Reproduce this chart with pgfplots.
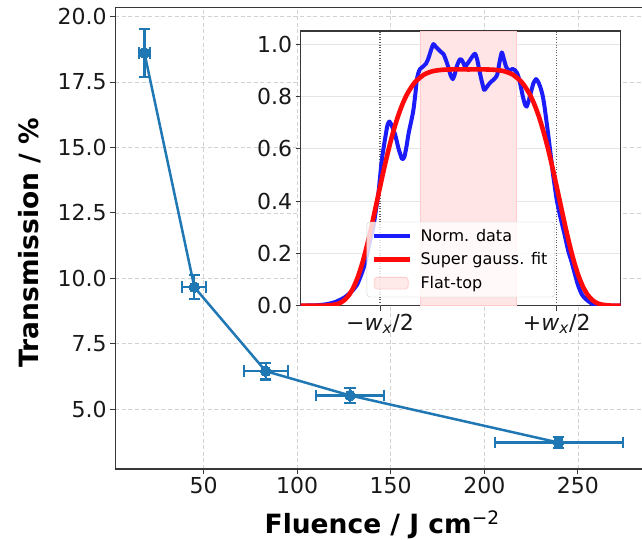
\documentclass[border=0pt]{standalone}
\usepackage{fontspec}
\setmainfont{DejaVu Sans}
\usepackage{pgfplots}
\pgfplotsset{compat=1.18}
\usepackage{pgfplotstable}

\definecolor{c0}{RGB}{31,119,180}
\definecolor{nblue}{RGB}{28,28,250}
\definecolor{nred}{RGB}{255,10,10}
\definecolor{spine}{RGB}{55,55,55}
\definecolor{band}{RGB}{255,229,229}
\definecolor{bandedge}{RGB}{255,205,205}

\pgfplotsset{
  longline legend/.style={legend image code/.code={\draw[##1, sharp plot] (0pt,0pt) -- (36pt,0pt);}},
  band legend/.style={legend image code/.code={\draw[fill=band, draw=bandedge, line width=0.8pt] (0pt,-5.8pt) rectangle (34pt,5.8pt);}},
}

\pgfplotstableread{
x y ex ey
18.4 18.62 2.8 0.92
45.1 9.66 6.4 0.465
83.2 6.45 11.8 0.32
128.3 5.52 18.2 0.275
239.7 3.72 34.2 0.21
}\trans

\pgfplotstableread{
x f
-0.949 0
-0.85 0.0000
-0.80 0.0007
-0.75 0.0049
-0.725 0.0110
-0.70 0.0224
-0.675 0.0414
-0.65 0.0704
-0.625 0.1108
-0.60 0.1632
-0.575 0.2265
-0.55 0.2984
-0.525 0.3757
-0.50 0.4540
-0.475 0.5305
-0.45 0.6017
-0.425 0.6655
-0.40 0.7209
-0.375 0.7670
-0.35 0.8045
-0.325 0.8330
-0.30 0.8560
-0.25 0.8838
-0.20 0.8967
-0.15 0.9015
-0.10 0.9030
0.00 0.9030
0.10 0.9030
0.15 0.9015
0.20 0.8967
0.25 0.8838
0.30 0.8560
0.325 0.8330
0.35 0.8045
0.375 0.7670
0.40 0.7209
0.425 0.6655
0.45 0.6017
0.475 0.5305
0.50 0.4540
0.525 0.3757
0.55 0.2984
0.575 0.2265
0.60 0.1632
0.625 0.1108
0.65 0.0704
0.675 0.0414
0.70 0.0224
0.725 0.0110
0.75 0.0049
0.80 0.0007
0.862 0
}\fit

\pgfplotstableread{
x v
-0.949 0.000
-0.90 0.001
-0.85 0.002
-0.80 0.006
-0.75 0.015
-0.70 0.032
-0.66 0.055
-0.63 0.080
-0.60 0.130
-0.58 0.175
-0.56 0.240
-0.538 0.302
-0.52 0.380
-0.509 0.430
-0.49 0.557
-0.471 0.640
-0.458 0.690
-0.447 0.704
-0.435 0.690
-0.415 0.655
-0.395 0.600
-0.375 0.560
-0.362 0.570
-0.350 0.610
-0.338 0.660
-0.322 0.710
-0.311 0.749
-0.300 0.810
-0.292 0.863
-0.283 0.890
-0.273 0.905
-0.255 0.915
-0.240 0.925
-0.226 0.946
-0.210 0.980
-0.198 1.000
-0.185 0.990
-0.170 0.980
-0.155 0.970
-0.141 0.962
-0.125 0.935
-0.113 0.910
-0.100 0.880
-0.088 0.866
-0.077 0.885
-0.066 0.914
-0.054 0.935
-0.043 0.943
-0.030 0.930
-0.019 0.914
-0.005 0.925
0.010 0.940
0.025 0.955
0.038 0.963
0.050 0.940
0.062 0.900
0.075 0.860
0.089 0.825
0.100 0.832
0.113 0.844
0.127 0.855
0.141 0.863
0.154 0.872
0.164 0.885
0.176 0.930
0.189 0.968
0.200 0.945
0.213 0.914
0.225 0.902
0.236 0.900
0.250 0.905
0.264 0.900
0.275 0.890
0.283 0.876
0.296 0.840
0.308 0.800
0.320 0.770
0.330 0.761
0.342 0.785
0.353 0.813
0.368 0.850
0.383 0.866
0.395 0.855
0.406 0.838
0.418 0.810
0.428 0.774
0.440 0.715
0.453 0.647
0.466 0.575
0.478 0.507
0.490 0.450
0.500 0.404
0.520 0.340
0.545 0.270
0.565 0.210
0.585 0.165
0.605 0.115
0.623 0.073
0.645 0.040
0.670 0.022
0.707 0.005
0.750 0.000
0.862 0.000
}\ndata

\begin{document}
\begin{tikzpicture}
\begin{axis}[
  width=531.8pt, height=461.7pt, scale only axis,
  xmin=2.8, xmax=286.9, ymin=2.71, ymax=20.36,
  xtick={50,100,150,200,250},
  ytick={5,7.5,10,12.5,15,17.5,20},
  yticklabel style={/pgf/number format/.cd, fixed, fixed zerofill, precision=1},
  /pgf/number format/assume math mode=true,
  ticklabel style={font=\fontsize{22}{26}\selectfont, color=black!90},
  xtick pos=bottom, ytick pos=left,
  tick align=outside, major tick length=5pt,
  tick style={line width=1pt, spine},
  axis line style={line width=1.2pt, spine},
  grid=major,
  grid style={dash pattern=on 4pt off 2.6pt, line width=0.8pt, gray!35},
  xlabel={\textbf{Fluence / J cm\textsuperscript{\mdseries −2}}},
  ylabel={\textbf{Transmission / \%}},
  xlabel style={font=\fontsize{26.5}{30}\selectfont, at={(axis description cs:0.502,-0.140)}, anchor=base},
  ylabel style={font=\fontsize{26.5}{30}\selectfont, at={(axis description cs:-0.160,0.49)}, anchor=center},
]
\addplot[c0, line width=2.5pt, mark=*, mark size=5.3pt,
  mark options={solid, fill=c0, draw=c0, line width=0pt},
  error bars/.cd, x dir=both, x explicit, y dir=both, y explicit,
  error bar style={line width=2.2pt, c0},
  error mark options={rotate=90, line width=2.2pt, mark size=5.8pt, c0}
] table[x=x, y=y, x error=ex, y error=ey] {\trans};
\end{axis}

\begin{axis}[
  at={(185.5pt,163.3pt)}, anchor=south west,
  width=320pt, height=274.7pt, scale only axis,
  xmin=-0.949, xmax=0.862, ymin=0, ymax=1.05,
  axis background/.style={fill=white},
  xtick={-0.5,0.5},
  xticklabels={{−\textit{w}\textsubscript{\textit{x}}/2},{+\textit{w}\textsubscript{\textit{x}}/2}},
  ytick={0,0.2,0.4,0.6,0.8,1.0},
  yticklabel style={/pgf/number format/.cd, fixed, fixed zerofill, precision=1},
  /pgf/number format/assume math mode=true,
  ticklabel style={font=\fontsize{22}{26}\selectfont, color=black!90},
  xtick pos=bottom, ytick pos=left,
  tick align=outside, major tick length=5pt,
  tick style={line width=1pt, spine},
  axis line style={line width=1.2pt, spine},
  ymajorgrids,
  grid style={line width=1pt, gray!20},
  legend style={at={(0.5,0.031)}, anchor=south, draw=gray!35, rounded corners=3pt,
    fill=white, fill opacity=0.8, text opacity=1,
    font=\fontsize{16}{19}\selectfont, inner xsep=5pt, inner ysep=5pt,
    row sep=6pt, column sep=6pt},
  legend cell align=left,
]
\addplot[fill=band, draw=bandedge, line width=0.8pt, forget plot] coordinates {(-0.274,0) (-0.274,1.05) (0.273,1.05) (0.273,0)} -- cycle;
\addplot[gray!75!black, line width=1.2pt, dash pattern=on 1pt off 1.6pt, forget plot] coordinates {(-0.5,0) (-0.5,1.05)};
\addplot[gray!75!black, line width=1.2pt, dash pattern=on 1pt off 1.6pt, forget plot] coordinates {(0.5,0) (0.5,1.05)};
\addplot[nblue, line width=4pt, line join=round, smooth, tension=0.4, longline legend] table[x=x, y=v] {\ndata};
\addplot[nred, line width=4.6pt, line join=round, smooth, tension=0.4, longline legend] table[x=x, y=f] {\fit};
\addlegendimage{band legend}
\legend{Norm. data, Super gauss. fit, Flat-top}
\end{axis}
\pgfresetboundingbox
\path[use as bounding box] (-115.2pt,-71pt) rectangle (526.8pt,469pt);
\end{tikzpicture}
\end{document}
